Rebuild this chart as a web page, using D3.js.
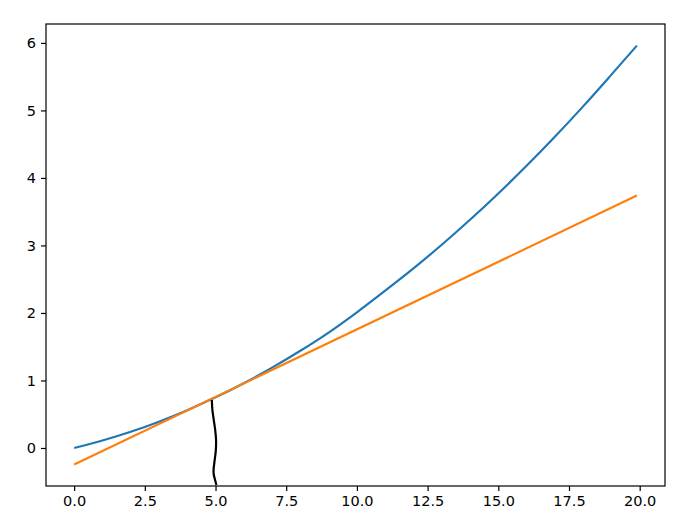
<!DOCTYPE html>
<html>
<head>
<meta charset="utf-8">
<script src="https://cdn.jsdelivr.net/npm/d3@7"></script>
<style>
  body { margin: 0; background: #fff; }
</style>
</head>
<body>
<script>
// values
var curveX = [0, 1, 2, 3, 4, 5, 6, 7, 8, 9, 10, 11, 12, 13, 14, 15, 16, 17, 18, 19, 19.9];
var curveY = [0, 0.11, 0.24, 0.39, 0.56, 0.75, 0.96, 1.19, 1.44, 1.71, 2.01, 2.33, 2.66, 3.01, 3.38, 3.77, 4.18, 4.61, 5.06, 5.53, 5.96];
var tangentX = [0, 19.9];
var tangentY = [-0.246, 3.74];
var braceX = [4.87, 4.89, 4.94, 4.99, 5.02, 5.01, 4.97, 4.93, 4.94, 4.99, 5.03];
var braceY = [0.71, 0.56, 0.41, 0.26, 0.11, -0.04, -0.18, -0.33, -0.40, -0.48, -0.55];
var xTicks = [0, 2.5, 5, 7.5, 10, 12.5, 15, 17.5, 20];
var yTicks = [0, 1, 2, 3, 4, 5, 6];

var width = 687, height = 529;
var margin = {left: 46, right: 22, top: 24, bottom: 43};

var svg = d3.select('body')
    .append('svg')
    .attr("width", width)
    .attr("height", height);

var x = d3.scaleLinear()
    .domain([-0.995, 20.895])
    .range([margin.left, width - margin.right]);

var y = d3.scaleLinear()
    .domain([-0.563, 6.28])
    .range([height - margin.bottom, margin.top]);

function pts(xs, ys) {
    return xs.map(function (v, i) { return [v, ys[i]]; });
}

var line = d3.line()
    .x(function (d) { return x(d[0]); })
    .y(function (d) { return y(d[1]); });

svg.append("path")
    .datum(pts(curveX, curveY))
    .attr("d", line.curve(d3.curveMonotoneX))
    .attr("fill", "none")
    .attr("stroke", "#1f77b4")
    .attr("stroke-width", 2.2);

svg.append("path")
    .datum(pts(tangentX, tangentY))
    .attr("d", line.curve(d3.curveLinear))
    .attr("fill", "none")
    .attr("stroke", "#ff7f0e")
    .attr("stroke-width", 2.2);

svg.append("path")
    .datum(pts(braceX, braceY))
    .attr("d", line.curve(d3.curveCatmullRom))
    .attr("fill", "none")
    .attr("stroke", "#000")
    .attr("stroke-width", 2.2);

// axes
var xAxis = d3.axisBottom(x)
    .tickValues(xTicks)
    .tickFormat(d3.format(".1f"))
    .tickSizeInner(5)
    .tickSizeOuter(0)
    .tickPadding(5);

var yAxis = d3.axisLeft(y)
    .tickValues(yTicks)
    .tickFormat(d3.format("d"))
    .tickSizeInner(5)
    .tickSizeOuter(0)
    .tickPadding(5);

var gx = svg.append("g")
    .attr("transform", "translate(0," + (height - margin.bottom) + ")")
    .call(xAxis);
var gy = svg.append("g")
    .attr("transform", "translate(" + margin.left + ",0)")
    .call(yAxis);

[gx, gy].forEach(function (g) {
    g.attr("font-family", "DejaVu Sans").attr("font-size", 14.5);
    g.select(".domain").remove();
    g.selectAll(".tick line").attr("stroke", "#000").attr("stroke-width", 1.2);
    g.selectAll(".tick text").attr("fill", "#000");
});

// frame
svg.append("rect")
    .attr("x", margin.left)
    .attr("y", margin.top)
    .attr("width", width - margin.left - margin.right)
    .attr("height", height - margin.top - margin.bottom)
    .attr("fill", "none")
    .attr("stroke", "#000")
    .attr("stroke-width", 1.2);
</script>
</body>
</html>
